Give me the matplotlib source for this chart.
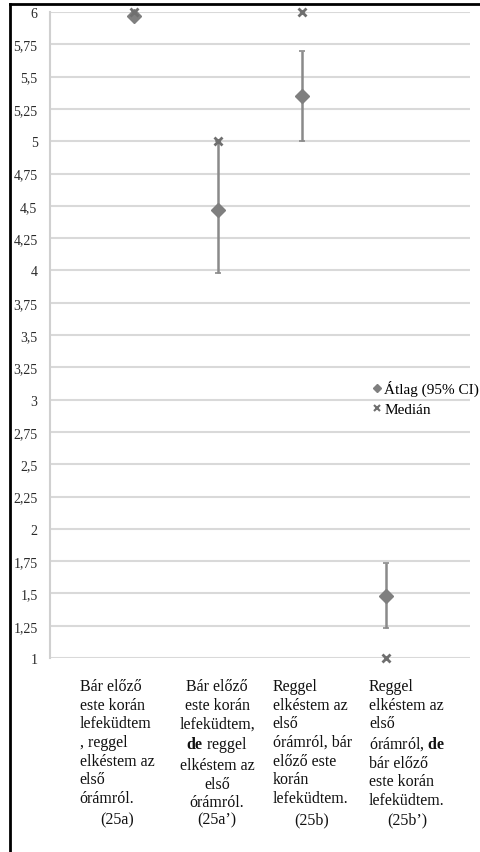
import matplotlib
matplotlib.use("Agg")
import matplotlib.pyplot as plt
from matplotlib.lines import Line2D
import numpy as np

plt.rcParams['font.family'] = ['Liberation Serif', 'DejaVu Serif']
plt.rcParams['mathtext.fontset'] = 'custom'
plt.rcParams['mathtext.rm'] = 'Liberation Serif'
plt.rcParams['mathtext.bf'] = 'Liberation Serif:bold'

# ---- data ----
categories = ["25a", "25a'", "25b", "25b'"]
means = [5.97, 4.47, 5.35, 1.48]
ci_low = [5.94, 3.98, 5.00, 1.23]
ci_high = [6.00, 5.00, 5.70, 1.735]
medians = [6, 5, 6, 1]
y_ticks = [1, 1.25, 1.5, 1.75, 2, 2.25, 2.5, 2.75, 3, 3.25, 3.5, 3.75,
           4, 4.25, 4.5, 4.75, 5, 5.25, 5.5, 5.75, 6]
y_tick_labels = ["1", "1,25", "1,5", "1,75", "2", "2,25", "2,5", "2,75", "3",
                 "3,25", "3,5", "3,75", "4", "4,25", "4,5", "4,75", "5",
                 "5,25", "5,5", "5,75", "6"]
label_bodies = [
    "Bár előző\neste korán\nlefeküdtem\n, reggel\nelkéstem az\nelső\nórámról.",
    "Bár előző\neste korán\nlefeküdtem,\n$\\mathbf{de}$ reggel\nelkéstem az\nelső\nórámról.",
    "Reggel\nelkéstem az\nelső\nórámról, bár\nelőző este\nkorán\nlefeküdtem.",
    "Reggel\nelkéstem az\nelső\nórámról, $\\mathbf{de}$\nbár előző\neste korán\nlefeküdtem.",
]
label_codes = ["(25a)", "(25a’)", "(25b)", "(25b’)"]
legend_labels = ["Átlag (95% CI)", "Medián"]

# ---- layout ----
W, H = 480, 853
fig = plt.figure(figsize=(W / 100, H / 100), dpi=100)
ax = fig.add_axes([50 / W, 1 - 659 / H, 420 / W, 646 / H])
ax.set_xlim(0, 5)
ax.set_ylim(1, 6)

x = np.arange(1, len(categories) + 1)
means_a = np.array(means)
yerr = [means_a - np.array(ci_low), np.array(ci_high) - means_a]

gray = '#7f7f7f'
ax.errorbar(x, means, yerr=yerr, fmt='D', color=gray, ms=7.5,
            ecolor='#8a8a8a', elinewidth=1.8, capsize=2, capthick=1.2,
            clip_on=False, zorder=3)
ax.plot(x, medians, 'x', color='#6f6f6f', ms=6, mew=2, ls='',
        clip_on=False, zorder=4)

ax.set_yticks(y_ticks)
ax.set_yticklabels(y_tick_labels, fontsize=10, color='#2a2a2a')
ax.tick_params(axis='y', length=0, pad=9)
ax.set_xticks([])
ax.yaxis.grid(True, color='#d9d9d9', lw=1.5)
ax.set_axisbelow(True)
for s in ['top', 'right', 'bottom']:
    ax.spines[s].set_visible(False)
ax.spines['left'].set_color('#d0d0d0')
ax.spines['left'].set_linewidth(1.5)

# category labels (text boxes)
label_x = [0.80, 1.99, 3.12, 4.25]
align = ['left', 'center', 'left', 'left']
tr = ax.get_xaxis_transform()
line_pt = 13.75
for i in range(len(categories)):
    ax.text(label_x[i], -0.031, label_bodies[i], transform=tr, ha='center',
            va='top', multialignment=align[i], fontsize=11.5,
            linespacing=1.22, color='#111111', clip_on=False)
    ax.annotate(label_codes[i], xy=(label_x[i], -0.031), xycoords=tr,
                xytext=(0, -7 * line_pt), textcoords='offset points',
                ha='center', va='top', fontsize=11.5, color='#111111',
                annotation_clip=False)

# legend
handles = [
    Line2D([], [], marker='D', color=gray, ls='', ms=4.5),
    Line2D([], [], marker='x', color='#6f6f6f', ls='', ms=4.5, mew=1.5),
]
fig.legend(handles, legend_labels, loc='upper left',
           bbox_to_anchor=(372 / W, 1 - 381 / H), frameon=False,
           fontsize=11, handlelength=0.6, handletextpad=0.2,
           borderpad=0, borderaxespad=0, labelspacing=0.42)

# outer frame
fig.add_artist(Line2D([10 / W, 10 / W], [0, 1 - 5 / H], color='black',
                      lw=2, transform=fig.transFigure))
fig.add_artist(Line2D([10 / W, 1], [1 - 5 / H, 1 - 5 / H], color='black',
                      lw=2, transform=fig.transFigure))

fig.savefig('out.png', dpi=100)
